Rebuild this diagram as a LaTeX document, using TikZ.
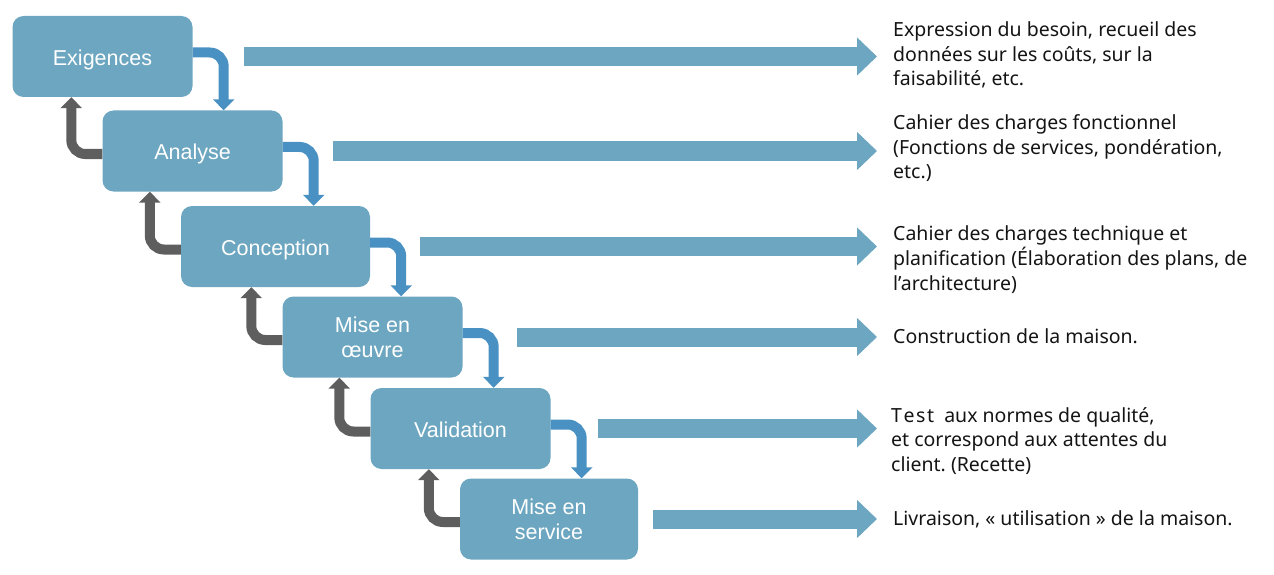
\documentclass[tikz,border=0pt]{standalone}
\usepackage{fontspec}
\setmainfont{Liberation Sans}
\newfontfamily\descfont{Noto Sans}
\usetikzlibrary{arrows.meta}
\definecolor{boxc}{RGB}{108,166,192}
\definecolor{bluec}{RGB}{74,145,195}
\definecolor{grayc}{RGB}{94,94,94}
\definecolor{txtc}{RGB}{20,20,20}
\newcommand{\desc}[1]{\begin{tabular}[t]{@{}l@{}}#1\end{tabular}}
\frenchspacing
\begin{document}
\begin{tikzpicture}[x=1pt,y=-1pt,
 stage/.style={fill=boxc, rounded corners=11pt, minimum width=180pt, minimum height=81pt, inner sep=0pt, text=white, font=\fontsize{21.5}{25}\selectfont, align=center},
 oneline/.style={text height=17.4pt, text depth=0pt},
 fwd/.style={draw=bluec, line width=10pt, rounded corners=14pt, -{Triangle[width=21pt,length=11pt]}},
 back/.style={draw=grayc, line width=10pt, rounded corners=14pt, -{Triangle[width=21pt,length=11pt]}},
 outarrow/.style={draw=boxc, line width=19pt, -{Triangle[width=37pt,length=20pt]}},
 txt/.style={anchor=base west, inner sep=0pt, font=\descfont\fontsize{19.5}{24.5}\selectfont, text=txtc}]
\useasboundingbox (0,0) rectangle (1274,575);

% stages
\node[stage, oneline] (e1) at (102.5,56.5) {Exigences};
\node[stage, oneline] (e2) at (192.5,151) {Analyse};
\node[stage, oneline, minimum width=189pt] (e3) at (275.5,246.5) {Conception};
\node[stage] (e4) at (372.5,337) {Mise en\\œuvre};
\node[stage, oneline] (e5) at (460.5,428.5) {Validation};
\node[stage, minimum width=178pt] (e6) at (549,519) {Mise en\\service};

% descriptions
\node[txt] (t1) at (893,37) {\desc{Expression du besoin, recueil des\\données sur les coûts, sur la\\faisabilité, etc.}};
\node[txt] (t2) at (893,130) {\desc{Cahier des charges fonctionnel\\(Fonctions de services, pondération,\\etc.)}};
\node[txt] (t3) at (893,240) {\desc{Cahier des charges technique et\\planification (Élaboration des plans, de\\l’architecture)}};
\node[txt] (t4) at (893,343) {\desc{Construction de la maison.}};
\node[txt] (t5) at (891,422) {\desc{T\kern1.6pt e\kern1.6pt s\kern1.6pt t\hspace{5pt} aux normes de qualité,\\et correspond aux attentes du\\client. (Recette)}};
\node[txt] (t6) at (893,525) {\desc{Livraison, «~utilisation~» de la maison.}};

% forward connectors
\foreach \a/\b in {e1/e2,e2/e3,e3/e4,e4/e5,e5/e6}{
  \draw[fwd] ([yshift=4pt]\a.east) -| ([xshift=31pt]\a.east |- \b.north);
}
% backward connectors
\foreach \a/\b in {e2/e1,e3/e2,e4/e3,e5/e4,e6/e5}{
  \draw[back] ([yshift=-3pt]\a.west) -| ([xshift=-31pt]\a.west |- \b.south);
}

% output arrows
\draw[outarrow] ([xshift=51pt]e1.east) -- ([xshift=-16pt]e1.east -| t1.west);
\draw[outarrow] ([xshift=50pt]e2.east) -- ([xshift=-16pt]e2.east -| t2.west);
\draw[outarrow] ([xshift=50pt]e3.east) -- ([xshift=-16pt]e3.east -| t3.west);
\draw[outarrow] ([xshift=54pt]e4.east) -- ([xshift=-16pt]e4.east -| t4.west);
\draw[outarrow] ([xshift=47pt]e5.east) -- ([xshift=-14pt]e5.east -| t5.west);
\draw[outarrow] ([xshift=15pt]e6.east) -- ([xshift=-16pt]e6.east -| t6.west);
\end{tikzpicture}
\end{document}
